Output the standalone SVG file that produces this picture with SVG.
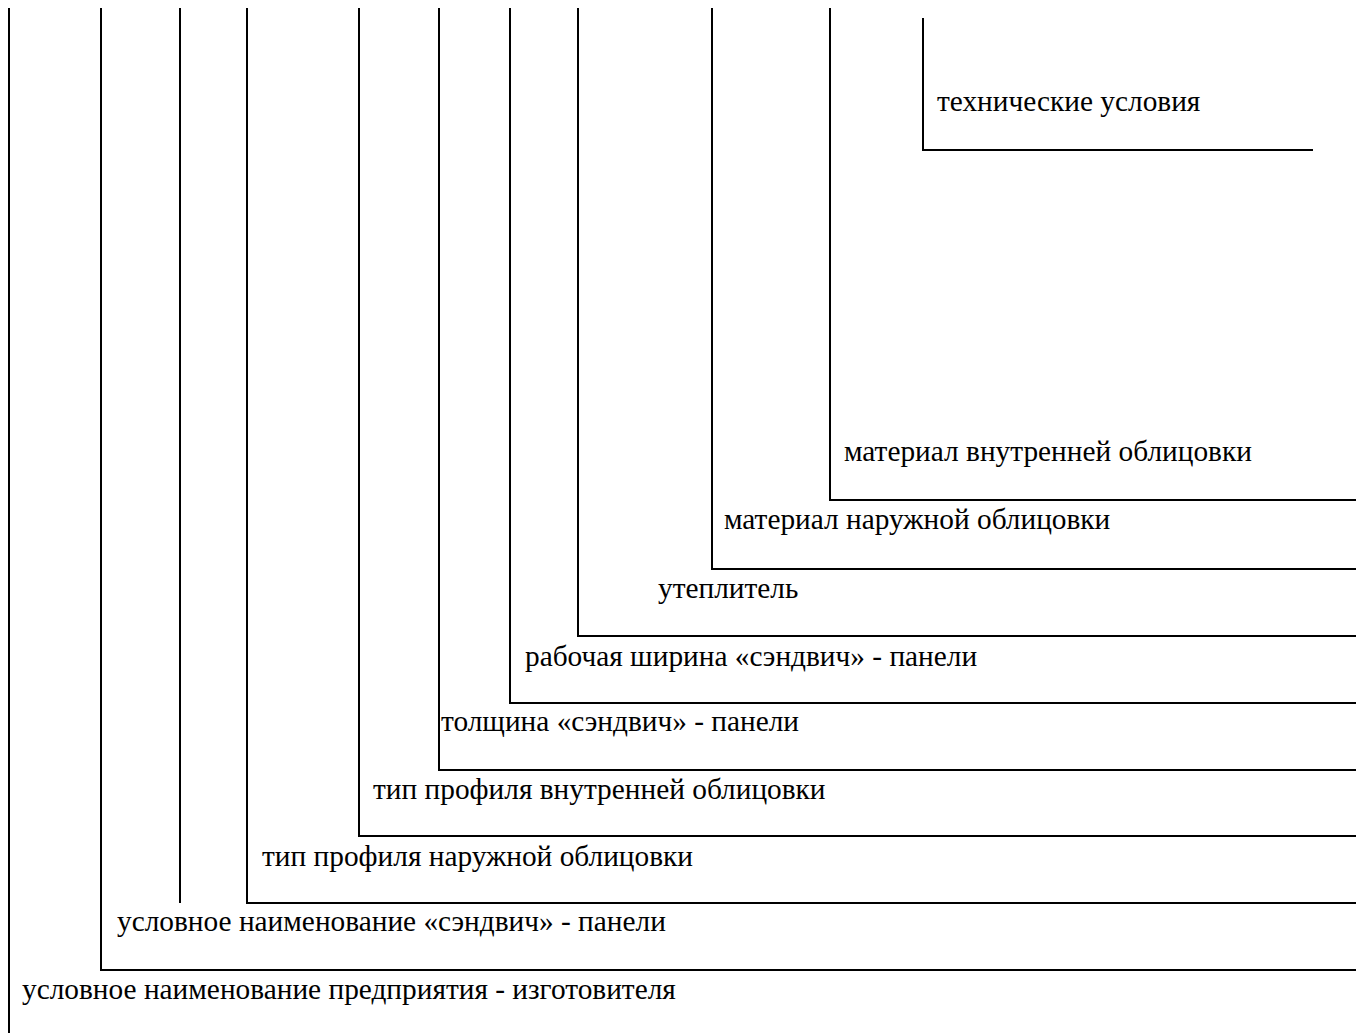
<svg xmlns="http://www.w3.org/2000/svg" width="1364" height="1033" viewBox="0 0 1364 1033">
  <style>
    .ln { fill: none; stroke: #000; stroke-width: 2; stroke-linecap: butt; }
    .lbl { font-family: "Liberation Serif", "Times New Roman", serif; font-size: 29.33px; fill: #000; }
  </style>
  <rect width="1364" height="1033" fill="#fff"/>

  <!-- leader lines: each designation field drops down and turns right to its caption -->
  <g id="connectors">
    <path class="ln" d="M9 8 V1033"/>
    <path class="ln" d="M101 8 V970 H1356"/>
    <path class="ln" d="M180 8 V903"/>
    <path class="ln" d="M247 8 V903 H1356"/>
    <path class="ln" d="M359 8 V836 H1356"/>
    <path class="ln" d="M439 8 V770 H1356"/>
    <path class="ln" d="M510 8 V703 H1356"/>
    <path class="ln" d="M578 8 V636 H1356"/>
    <path class="ln" d="M712 8 V569 H1356"/>
    <path class="ln" d="M830 8 V500 H1356"/>
    <path class="ln" d="M923 18 V150 H1313"/>
  </g>

  <g id="tech-conditions"><text class="lbl" x="937" y="111">технические условия</text></g>
  <g id="inner-facing-material"><text class="lbl" x="844" y="461">материал внутренней облицовки</text></g>
  <g id="outer-facing-material"><text class="lbl" x="724" y="529">материал наружной облицовки</text></g>
  <g id="insulation"><text class="lbl" x="658" y="598">утеплитель</text></g>
  <g id="working-width"><text class="lbl" x="525" y="666">рабочая ширина «сэндвич» - панели</text></g>
  <g id="thickness"><text class="lbl" x="441" y="731">толщина «сэндвич» - панели</text></g>
  <g id="inner-profile"><text class="lbl" x="373" y="799">тип профиля внутренней облицовки</text></g>
  <g id="outer-profile"><text class="lbl" x="262" y="866">тип профиля наружной облицовки</text></g>
  <g id="panel-name"><text class="lbl" x="117" y="931">условное наименование «сэндвич» - панели</text></g>
  <g id="manufacturer-name"><text class="lbl" x="22" y="999">условное наименование предприятия - изготовителя</text></g>
</svg>
